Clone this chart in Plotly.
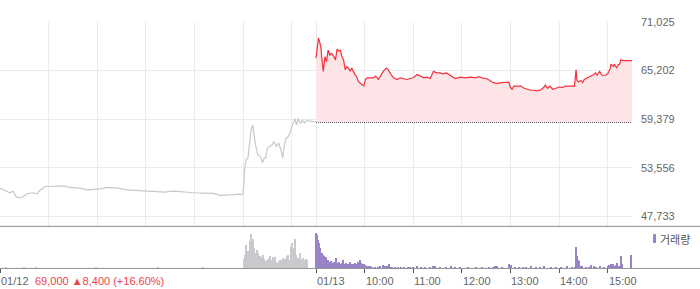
import plotly.graph_objects as go

# ---------------- data ----------------
# Day 1 (01/12) price line (grey)
d1_time = ["09:00","09:06","09:12","09:16","09:20","09:25","09:28","09:33","09:41","09:46","09:49","09:56",
           "10:02","10:08","10:14","10:18","10:27","10:39","10:48","10:55","11:04","11:12","11:25","11:37",
           "11:45","11:57","12:09","12:22","12:34","12:46","12:59","13:11","13:23","13:32","13:41","13:48",
           "13:57","14:00","14:02","14:04","14:06","14:08","14:10","14:12","14:13","14:15","14:18","14:21",
           "14:24","14:26","14:28","14:30","14:33","14:36","14:38","14:41","14:44","14:46","14:49","14:51",
           "14:53","14:56","14:59","15:01","15:04","15:06","15:08","15:11","15:13","15:16","15:19","15:21",
           "15:26","15:30"]
d1_price = [51128,50894,50577,50776,50074,49957,50074,50460,50577,50460,50858,51327,
            51362,51397,51444,51397,51209,51128,50929,50976,51046,51209,51128,50929,
            50858,50811,50741,50659,50776,50659,50577,50542,50507,50273,50273,50343,
            50425,50390,53387,54557,54756,56898,58150,58654,57682,56512,55142,54955,
            54171,54756,54756,55926,56125,56312,56711,56125,56512,55926,54756,56312,
            57097,57296,58068,58654,59438,58654,59438,58853,59239,58935,59239,59169,
            59122,59051]

# Day 2 (01/13) price line (red)
d2_time = ["09:00","09:03","09:04","09:06","09:07","09:09","09:11","09:13","09:15","09:17","09:19","09:21",
           "09:24","09:26","09:28","09:30","09:32","09:34","09:36","09:38","09:40","09:42","09:44","09:46",
           "09:48","09:50","09:52","09:54","09:57","09:59","10:01","10:03","10:07","10:11","10:13","10:15",
           "10:17","10:19","10:21","10:23","10:25","10:27","10:29","10:32","10:34","10:36","10:40","10:44",
           "10:48","10:52","10:56","11:00","11:05","11:09","11:13","11:17","11:21","11:25","11:29","11:33",
           "11:37","11:41","11:46","11:52","11:58","12:04","12:11","12:17","12:21","12:25","12:31","12:35",
           "12:39","12:44","12:48","12:54","12:58","13:00","13:02","13:04","13:08","13:13","13:17","13:21",
           "13:25","13:29","13:33","13:37","13:41","13:43","13:46","13:49","13:52","13:56","14:00","14:04",
           "14:08","14:12","14:16","14:19","14:21","14:22","14:24","14:27","14:29","14:31","14:35","14:39",
           "14:43","14:45","14:47","14:50","14:53","14:57","15:00","15:03","15:04","15:07","15:08","15:11",
           "15:13","15:15","15:16","15:20","15:29","15:30"]
d2_price = [66660,69071,68801,68017,66847,65091,66847,66261,67631,67046,67245,67046,
            66461,67748,67514,67631,66847,66461,65290,65676,65489,65091,65489,65091,
            64705,64506,63921,63733,63534,63335,64120,64319,64319,64319,64506,64389,
            64120,64506,64705,65091,65290,65489,65290,64705,64506,64319,64120,64319,
            64237,64120,64237,64319,64705,64506,64319,64389,64237,65091,64904,64904,
            64787,64904,64623,64237,64389,64319,64389,64319,64471,64319,64202,63921,
            63733,63616,63733,63768,63804,63148,62949,63335,63335,63335,63066,62949,
            62832,62832,62750,62867,63148,63452,63066,63335,62949,63066,63218,63148,
            63335,63335,63335,63335,65290,64003,63851,64003,63733,64120,64319,64506,
            64705,64904,64623,65091,64623,64623,64787,65407,65957,65676,65957,65489,
            65875,65957,66461,66378,66378,66378]

prev_close = 58970
y_ticks = [47733, 53556, 59379, 65202, 71025]

# Volume (thousand shares)
v1_time = ["09:08","09:30","09:45","10:58","12:15","13:10",
           "14:01","14:02","14:04","14:06","14:07","14:08","14:10","14:11","14:12","14:13","14:15","14:16",
           "14:17","14:18","14:20","14:21","14:22","14:23","14:25","14:26","14:27","14:28","14:29","14:31",
           "14:32","14:33","14:34","14:36","14:37","14:38","14:39","14:41","14:42","14:43","14:44","14:46",
           "14:47","14:48","14:49","14:50","14:52","14:53","14:54","14:55","14:57","14:58","14:59","15:00",
           "15:02","15:03","15:04","15:05","15:07","15:08","15:09","15:10","15:12","15:13","15:14","15:15",
           "15:16","15:18","15:19"]
v1_vol = [0.8,0.7,0.6,0.5,0.6,0.5,
          9.3,13.7,23.7,18.0,10.3,28.0,35.3,22.0,29.3,20.3,12.7,15.3,
          18.7,15.3,12.7,12.0,11.3,10.3,13.7,9.3,7.0,6.0,8.0,7.0,
          10.3,12.0,8.7,6.0,11.3,7.0,11.3,6.0,4.7,5.3,7.0,8.7,
          8.0,5.3,10.3,8.0,9.3,8.7,12.0,13.7,8.7,8.7,22.0,25.3,
          15.3,20.3,30.3,13.7,10.3,8.7,10.3,15.3,8.7,7.0,10.3,5.3,
          8.7,9.3,8.7]

v2_time = ["09:00","09:01","09:02","09:04","09:05","09:06","09:07","09:09","09:10","09:11","09:12","09:14",
           "09:15","09:16","09:17","09:19","09:20","09:21","09:22","09:23","09:25","09:26","09:27","09:28",
           "09:30","09:31","09:32","09:33","09:35","09:36","09:37","09:38","09:40","09:41","09:42","09:43",
           "09:45","09:46","09:47","09:48","09:49","09:51","09:52","09:53","09:54","09:56","09:57","09:58",
           "09:59","10:01","10:03","10:05","10:07","10:09","10:13","10:17","10:19","10:23","10:25","10:28",
           "10:30","10:32","10:34","10:38","10:41","10:45","10:49","10:53","10:56","11:00","11:05","11:09",
           "11:15","11:21","11:25","11:27","11:33","11:40","11:46","11:52","11:58","12:07","12:17","12:25",
           "12:33","12:38","12:41","12:44","12:50","12:58","13:01","13:05","13:10","13:15","13:19","13:25",
           "13:31","13:37","13:42","13:50","13:56","14:02","14:10","14:16","14:20","14:21","14:22","14:23",
           "14:24","14:26","14:28","14:33","14:37","14:40","14:43","14:46","14:51","14:55","15:00","15:02",
           "15:04","15:05","15:07","15:08","15:10","15:12","15:14","15:16","15:17","15:18","15:29"]
v2_vol = [36.0,33.7,28.7,25.3,20.3,16.0,15.3,13.7,12.7,10.3,11.3,7.0,
          8.7,5.3,6.0,7.0,4.7,5.3,6.0,4.7,10.3,5.3,4.7,6.0,
          3.7,4.7,5.3,8.7,4.7,3.7,5.3,4.7,3.7,4.7,6.0,3.7,
          4.7,3.7,4.7,5.3,3.7,4.7,6.0,4.7,8.0,5.3,4.7,3.7,
          4.7,3.7,2.7,2.0,2.7,1.3,1.3,1.3,2.0,3.7,2.7,2.0,
          4.7,1.7,1.3,1.3,1.3,1.3,1.3,1.3,1.3,1.3,2.0,1.3,
          1.0,1.3,2.0,2.0,1.0,1.3,2.0,1.0,1.0,1.0,1.0,1.0,
          1.3,1.3,2.0,2.0,1.3,4.7,3.7,1.3,1.3,1.3,1.3,2.0,
          1.0,1.3,2.0,1.0,1.0,1.0,2.0,1.3,1.3,22.0,12.0,8.7,
          7.0,2.7,2.7,1.3,1.3,3.7,2.7,1.3,2.0,1.3,2.0,3.7,
          4.7,2.7,4.7,2.7,3.7,5.3,2.7,12.7,5.3,4.7,13.7]

date_labels = ["01/12", "01/13"]
hour_labels = ["10:00", "11:00", "12:00", "13:00", "14:00", "15:00"]
summary_text = "69,000 ▲8,400 (+16.60%)"
legend_text = "거래량"

# ---------------- helpers ----------------
W, H = 700, 289
DAY = 390


def tmin(s, day):
    h, m = s.split(":")
    return (int(h) - 9) * 60 + int(m) + day * DAY


def py(px):  # pixel row -> paper fraction
    return 1 - px / H


x1 = [tmin(t, 0) for t in d1_time]
x2 = [tmin(t, 1) for t in d2_time]
vx1 = [tmin(t, 0) for t in v1_time]
vx2 = [tmin(t, 1) for t in v2_time]

grid_x = [h * 60 for h in range(0, 7)] + [DAY + h * 60 for h in range(0, 7)]
tick_x = [0, DAY] + [DAY + h * 60 for h in range(1, 7)]

FONT = "Liberation Sans, Arial, sans-serif"
RED = "#f4303a"
PURPLE = "#9783c6"
GREY_LINE = "#c5c8cd"
GREY_BAR = "#c8cacd"
GRID = "#ebebeb"

fig = go.Figure()

# day 1 grey line
fig.add_trace(go.Scatter(x=x1, y=d1_price, mode="lines",
                         line=dict(color=GREY_LINE, width=1.2), hoverinfo="skip",
                         xaxis="x", yaxis="y"))
# base for fill
fig.add_trace(go.Scatter(x=[x2[0], x2[-1]], y=[prev_close, prev_close], mode="lines",
                         line=dict(color="rgba(0,0,0,0)", width=0), hoverinfo="skip",
                         xaxis="x", yaxis="y"))
fig.add_trace(go.Scatter(x=x2, y=d2_price, mode="lines", fill="tonexty",
                         fillcolor="#fde5e7", line=dict(color=RED, width=1.2),
                         hoverinfo="skip", xaxis="x", yaxis="y"))
# previous close dotted
fig.add_trace(go.Scatter(x=[x2[0], x2[-1]], y=[prev_close, prev_close], mode="lines",
                         line=dict(color="#555555", width=1, dash="1px,1px"), hoverinfo="skip",
                         xaxis="x", yaxis="y"))

# volume
fig.add_trace(go.Bar(x=vx1, y=v1_vol, width=1.25, marker=dict(color=GREY_BAR, line=dict(width=0)),
                     hoverinfo="skip", xaxis="x2", yaxis="y2"))
fig.add_trace(go.Bar(x=vx2, y=v2_vol, width=1.25, marker=dict(color=PURPLE, line=dict(width=0)),
                     hoverinfo="skip", xaxis="x2", yaxis="y2"))

XD = [0, 632 / W]
fig.update_layout(
    width=W, height=H, margin=dict(l=0, r=0, t=0, b=0),
    paper_bgcolor="white", plot_bgcolor="white", showlegend=False, bargap=0,
    font=dict(family=FONT, size=11, color="#666666"),
    xaxis=dict(domain=XD, range=[0, 2 * DAY], tickvals=grid_x, showticklabels=False,
               showgrid=True, gridcolor=GRID, gridwidth=1, zeroline=False, ticks="",
               showline=False, fixedrange=True),
    yaxis=dict(domain=[py(225), py(16)], range=[46563, 71030], side="right",
               tickvals=y_ticks, ticktext=[f"{v:,}" for v in y_ticks],
               showgrid=True, gridcolor=GRID, gridwidth=1, zeroline=False,
               ticks="", ticklabelstandoff=8, tickfont=dict(size=11, color="#666666"),
               showline=False, fixedrange=True),
    xaxis2=dict(domain=XD, range=[0, 2 * DAY], anchor="y2", tickvals=tick_x,
                showticklabels=False, showgrid=False, zeroline=False,
                ticks="outside", ticklen=4, tickcolor="#555555", tickwidth=1,
                showline=False, fixedrange=True),
    yaxis2=dict(domain=[py(268), py(228)], range=[0, 40], showticklabels=False,
                showgrid=False, zeroline=False, ticks="", fixedrange=True),
)

# panel separator and volume baseline
fig.add_shape(type="line", xref="paper", yref="paper", x0=0, x1=1, y0=py(225), y1=py(225),
              line=dict(color="#8f8f8f", width=1))
fig.add_shape(type="line", xref="paper", yref="paper", x0=0, x1=1, y0=py(268), y1=py(268),
              line=dict(color="#8f8f8f", width=1))

# x labels
lab_y = py(281)
fig.add_annotation(x=0, xref="x2", y=lab_y, yref="paper", text=date_labels[0], showarrow=False,
                   xanchor="left", yanchor="middle", xshift=-1,
                   font=dict(family=FONT, size=11, color="#666666"))
fig.add_annotation(x=DAY, xref="x2", y=lab_y, yref="paper", text=date_labels[1], showarrow=False,
                   xanchor="left", yanchor="middle", xshift=-1,
                   font=dict(family=FONT, size=11, color="#666666"))
for i, lab in enumerate(hour_labels):
    fig.add_annotation(x=DAY + (i + 1) * 60, xref="x2", y=lab_y, yref="paper", text=lab,
                       showarrow=False, xanchor="left", yanchor="middle", xshift=-1,
                       font=dict(family=FONT, size=11, color="#666666"))
fig.add_annotation(x=33 / W, xref="paper", y=lab_y, yref="paper", text=summary_text,
                   showarrow=False, xanchor="left", yanchor="middle",
                   font=dict(family=FONT, size=11, color="#f0424a"))

# legend
fig.add_shape(type="rect", xref="paper", yref="paper", x0=653 / W, x1=656 / W,
              y0=py(242), y1=py(233), fillcolor=PURPLE, line=dict(width=0))
fig.add_annotation(x=658 / W, xref="paper", y=py(238), yref="paper", text=legend_text,
                   showarrow=False, xanchor="left", yanchor="middle",
                   font=dict(family="Noto Sans CJK KR, sans-serif", size=11, color="#555555"))

fig.write_html("out.html")
